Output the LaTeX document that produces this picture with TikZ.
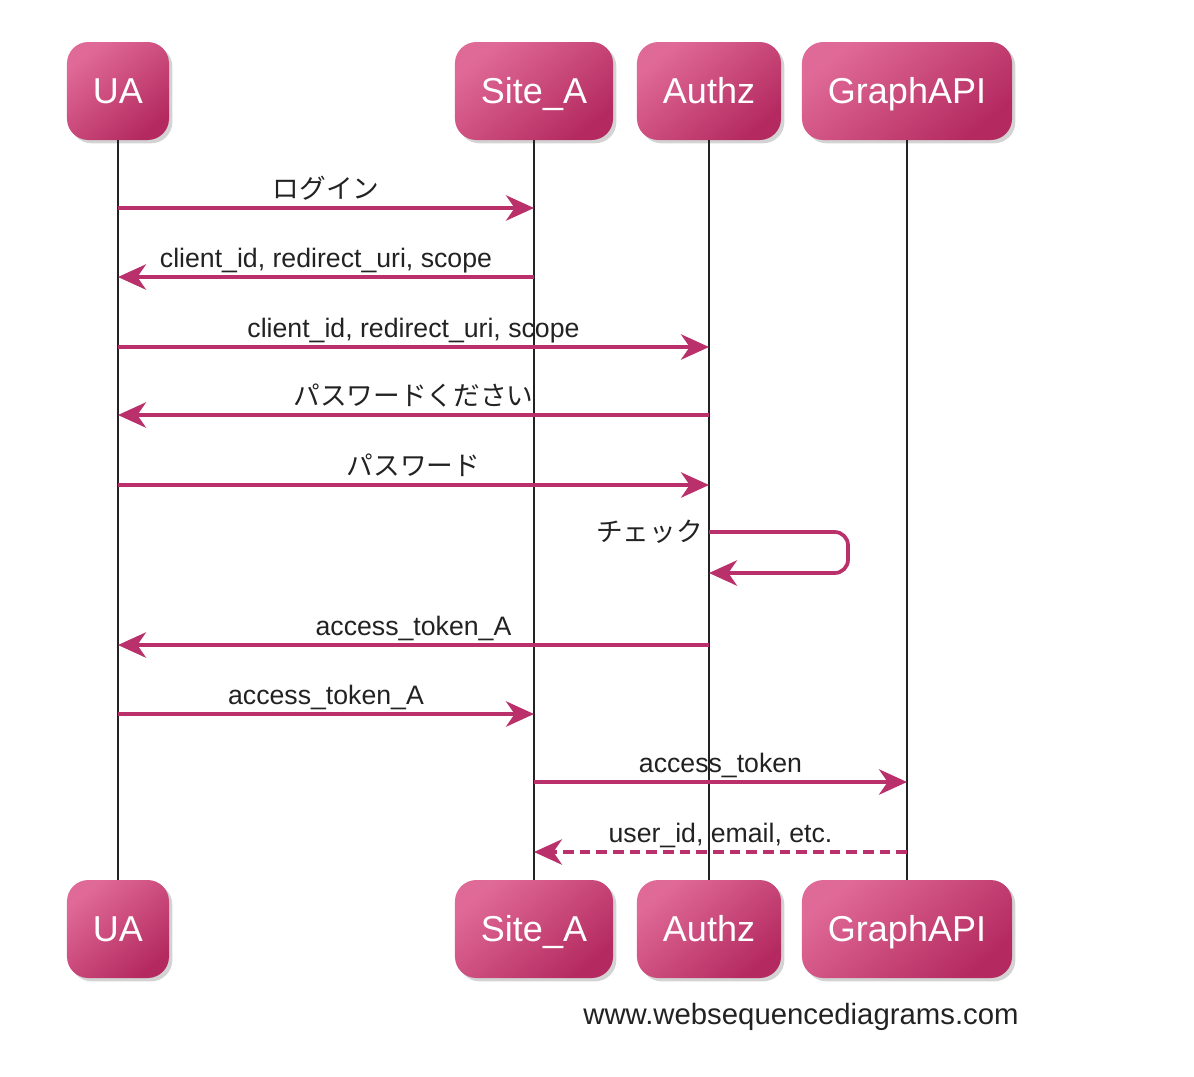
\documentclass[tikz,border=0pt]{standalone}
\usepackage{fontspec}
\setmainfont{Liberation Sans}
\newfontfamily\jp{Noto Sans CJK JP}
\usetikzlibrary{arrows.meta,shadows,math}

\definecolor{boxlight}{HTML}{E06A97}
\definecolor{boxdark}{HTML}{B42A60}
\definecolor{msgcol}{HTML}{B9306A}
\definecolor{ink}{HTML}{222222}

\begin{document}
\begin{tikzpicture}[x=0.75pt,y=-0.75pt,
    actor/.style={rounded corners=16pt, minimum height=73.5pt, inner xsep=19.5pt,
      text height=19.3pt, text depth=0pt,
      shading=axis, top color=boxlight, bottom color=boxdark, shading angle=40,
      text=white, font=\fontsize{27}{30}\selectfont,
      drop shadow={shadow xshift=2.5pt, shadow yshift=-2.5pt, opacity=0.35}},
    life/.style={line width=1.1pt, ink},
    msg/.style={draw=msgcol, line width=2.8pt, -{Stealth[length=21pt,width=19pt,inset=6.5pt]}},
    lbl/.style={anchor=base, inner sep=0pt, yshift=7pt, text=ink, font=\fontsize{20}{24}\selectfont}]
  \useasboundingbox (0,0) rectangle (1194,1076);
  \tikzmath{\xua = 118; \xsite = 534; \xauthz = 709; \xgraph = 907; \ytop = 91; \ybot = 929;}
  % participants
  \node[actor] (UAtop) at (\xua,\ytop) {UA};
  \node[actor] (SiteAtop) at (\xsite,\ytop) {Site\_A};
  \node[actor] (Authztop) at (\xauthz,\ytop) {Authz};
  \node[actor] (Graphtop) at (\xgraph,\ytop) {GraphAPI};
  \node[actor] (UAbot) at (\xua,\ybot) {UA};
  \node[actor] (SiteAbot) at (\xsite,\ybot) {Site\_A};
  \node[actor] (Authzbot) at (\xauthz,\ybot) {Authz};
  \node[actor] (Graphbot) at (\xgraph,\ybot) {GraphAPI};
  % lifelines
  \draw[life] (UAtop.south) -- (UAbot.north);
  \draw[life] (SiteAtop.south) -- (SiteAbot.north);
  \draw[life] (Authztop.south) -- (Authzbot.north);
  \draw[life] (Graphtop.south) -- (Graphbot.north);
  % message rows
  \coordinate (m1) at (0,208);
  \coordinate (m2) at (0,277);
  \coordinate (m3) at (0,347);
  \coordinate (m4) at (0,415);
  \coordinate (m5) at (0,485);
  \coordinate (m6) at (0,532);
  \coordinate (m6b) at (0,573);
  \coordinate (m7) at (0,645);
  \coordinate (m8) at (0,714);
  \coordinate (m9) at (0,782);
  \coordinate (m10) at (0,852);
  \draw[msg] (UAtop |- m1) -- (SiteAtop |- m1) node[lbl, midway] {\jp ログイン};
  \draw[msg] (SiteAtop |- m2) -- (UAtop |- m2) node[lbl, midway] {client\_id, redirect\_uri, scope};
  \draw[msg] (UAtop |- m3) -- (Authztop |- m3) node[lbl, midway] {client\_id, redirect\_uri, scope};
  \draw[msg] (Authztop |- m4) -- (UAtop |- m4) node[lbl, midway] {\jp パスワードください};
  \draw[msg] (UAtop |- m5) -- (Authztop |- m5) node[lbl, midway] {\jp パスワード};
  \draw[msg, rounded corners=10pt] (Authztop |- m6) -- ++(139,0) |- (Authztop |- m6b);
  \node[anchor=base east, inner sep=0pt, text=ink, font=\fontsize{20}{24}\selectfont\jp] (check) at ([xshift=-4.5pt, yshift=-7pt]Authztop |- m6) {チェック};
  \draw[msg] (Authztop |- m7) -- (UAtop |- m7) node[lbl, midway] {access\_token\_A};
  \draw[msg] (UAtop |- m8) -- (SiteAtop |- m8) node[lbl, midway] {access\_token\_A};
  \draw[msg] (SiteAtop |- m9) -- (Graphtop |- m9) node[lbl, midway] {access\_token};
  \draw[msg, dash pattern=on 8pt off 4.5pt] (Graphtop |- m10) -- (SiteAtop |- m10) node[lbl, midway] {user\_id, email, etc.};
  \node[text=ink, font=\fontsize{22}{26}\selectfont] (credit) at (801,1017) {www.websequencediagrams.com};
\end{tikzpicture}
\end{document}
